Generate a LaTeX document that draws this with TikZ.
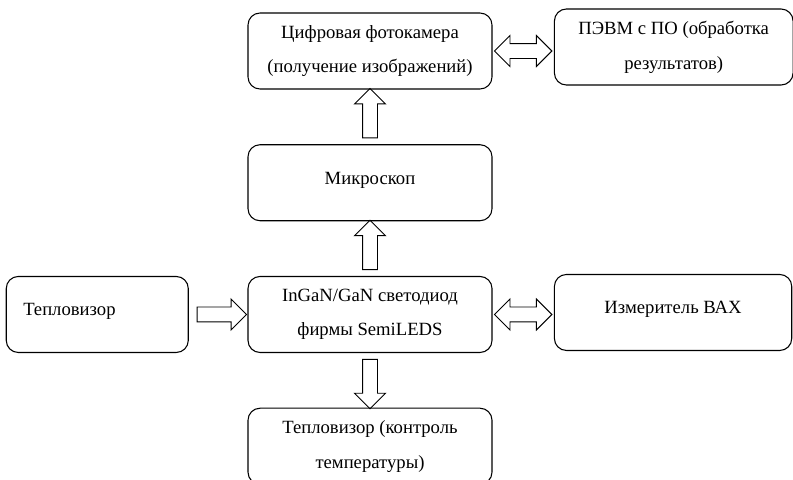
\documentclass[tikz,border=0pt]{standalone}
\usepackage{fontspec}
\setmainfont{Liberation Serif}
\usetikzlibrary{positioning,shapes.arrows,calc}

\begin{document}
\begin{tikzpicture}[
  node distance=41pt and 46pt,
  block/.style={rectangle,rounded corners=9pt,draw=black,line width=0.8pt,align=center,
                minimum width=183pt,minimum height=57pt,
                font=\fontsize{14pt}{26pt}\selectfont},
  oneline/.style={text depth=7pt},
  fat/.style={single arrow,draw,line width=0.7pt,inner sep=5.25pt,
              single arrow head extend=6pt,minimum height=37pt},
  fatboth/.style={double arrow,draw,line width=0.7pt,inner sep=5.25pt,
                  double arrow head extend=6pt,minimum height=43pt}
]
\useasboundingbox (0,0) rectangle (594.75pt,-359.25pt);
\node[block] (camera) at (277.5pt,-38.25pt) {Цифровая фотокамера\\(получение изображений)};
\node[block,minimum width=179pt,right=of camera,yshift=3pt] (pc) {ПЭВМ с ПО (обработка\\результатов)};
\node[block,oneline,below=of camera] (micro) {Микроскоп};
\node[block,below=of micro] (led) {InGaN/GaN светодиод\\фирмы SemiLEDS};
\node[block,oneline,minimum width=136.5pt,text width=111pt,inner xsep=12.75pt,align=left,
      left=44pt of led] (imager) {Тепловизор};
\node[block,oneline,minimum width=178pt,right=of led,yshift=1.5pt] (meter) {Измеритель ВАХ};
\node[block,below=of led] (control) {Тепловизор (контроль\\температуры)};
% block arrows in the gaps
\node[fat,shape border rotate=90] (micro2cam) at ($(micro.north)!.5!(camera.south)$) {};
\node[fat,shape border rotate=90] (led2micro) at ($(led.north)!.5!(micro.south)$) {};
\node[fat,shape border rotate=270] (led2ctrl) at ($(led.south)!.5!(control.north)$) {};
\node[fat] (imager2led) at ($(imager.east)!.5!(led.west)$) {};
\node[fatboth] (cam2pc) at ($(camera.east)!.5!(pc.west|-camera.east)$) {};
\node[fatboth] (led2meter) at ($(led.east)!.5!(meter.west|-led.east)$) {};
\end{tikzpicture}
\end{document}
